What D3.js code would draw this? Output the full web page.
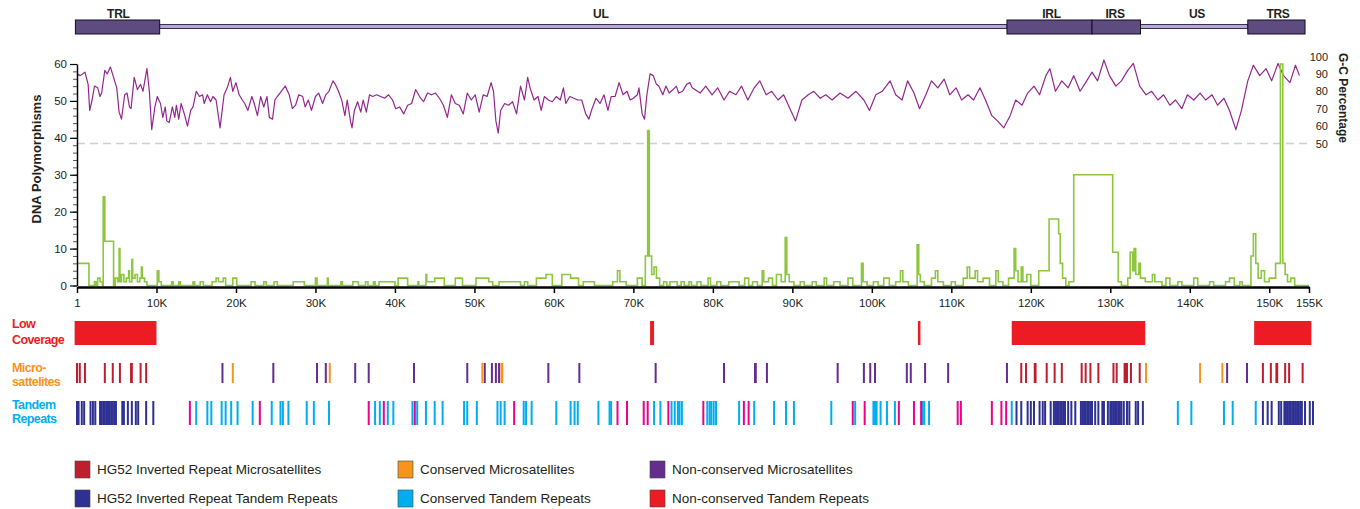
<!DOCTYPE html>
<html>
<head>
<meta charset="utf-8">
<script src="https://cdn.jsdelivr.net/npm/d3@7"></script>
<style>
  body { margin: 0; background: #fff; }
  svg text { font-family: "Liberation Sans", Arial, sans-serif; fill: #231f20; }
  .side-label { font-family: "Liberation Sans Narrow", "Liberation Sans", sans-serif; font-weight: bold; font-size: 12.5px; letter-spacing: -0.6px; }
</style>
</head>
<body>
<div class="chart"></div>
<script>
// genome regions (kb)
const regionNames   = ['TRL', 'UL', 'IRL', 'IRS', 'US', 'TRS'];
const regionStart   = [-0.2, 10.4, 117.0, 127.7, 133.8, 147.3];
const regionEnd     = [10.4, 117.0, 127.7, 133.8, 147.3, 154.5];
const regionIsBox   = [true, false, true, true, false, true];
const regionLabelAt = [5.2, 65.9, 122.6, 130.6, 140.9, 151.1];

// x ticks (kb)
const xTicks = [0, 10, 20, 30, 40, 50, 60, 70, 80, 90, 100, 110, 120, 130, 140, 150, 155];
const polyTicks = [0, 10, 20, 30, 40, 50, 60];
const gcTicks = [50, 60, 70, 80, 90, 100];

// G-C percentage trace [kb, %]
const gcTrace = [
  [0,90],[0.4,89],[1,91],[1.4,84],[1.6,69],[1.9,75],[2.2,83],[2.6,82],[2.9,77],[3.1,79],[3.5,92],[3.8,90],[4.2,94],[4.6,88],
  [5,82],[5.3,68],[5.6,64],[6,78],[6.3,79],[6.6,71],[6.8,70],[7.2,88],[7.6,81],[8,84],[8.3,80],[8.8,93],[9.1,80],[9.4,58],
  [9.8,71],[10.1,77],[10.5,73],[10.8,65],[11.1,71],[11.3,63],[11.6,62],[12,71],[12.3,65],[12.5,72],[12.8,64],[13.1,73],
  [13.5,67],[13.9,60],[14.3,69],[14.6,71],[15,80],[15.4,77],[15.8,78],[16,73],[16.4,78],[16.8,74],[17.1,77],[17.5,75],
  [18,59],[18.5,78],[18.9,82],[19.3,88],[19.6,80],[20,85],[20.4,78],[20.8,75],[21.1,73],[21.5,69],[22,77],[22.3,73],
  [22.7,66],[23.1,77],[23.5,71],[23.9,77],[24.2,65],[24.6,64],[24.9,75],[25.2,77],[25.7,80],[26.2,83],[26.7,78],[27.1,70],
  [27.5,72],[27.9,78],[28.4,77],[28.7,71],[29.1,75],[29.5,69],[30,77],[30.4,79],[30.9,73],[31.3,78],[31.7,80],[32.2,86],
  [32.5,84],[32.9,80],[33.3,75],[33.7,66],[34,75],[34.4,63],[34.6,59],[34.9,69],[35.3,74],[35.7,68],[36,75],[36.4,68],
  [36.8,78],[37.2,77],[37.7,78],[38.2,77],[38.7,76],[39.2,78],[39.7,75],[40.1,70],[40.6,71],[41.1,67],[41.6,72],[42.1,73],
  [42.6,81],[43.1,77],[43.6,74],[44.1,79],[44.6,78],[45.1,79],[45.6,76],[46.1,72],[46.6,65],[47.1,78],[47.6,73],[48.1,72],
  [48.6,67],[49.1,79],[49.6,75],[50.1,78],[50.6,68],[51.1,78],[51.6,77],[52.1,85],[52.4,80],[52.7,63],[53,56],[53.3,69],
  [53.8,73],[54.3,72],[54.8,74],[55.3,67],[55.8,83],[56.3,75],[56.7,88],[57,82],[57.5,75],[58,77],[58.4,69],[58.8,77],
  [59.3,75],[59.8,74],[60.3,77],[60.8,75],[61.2,82],[61.5,73],[62,77],[62.5,76],[63,75],[63.5,75],[64,67],[64.4,64],
  [64.8,70],[65.3,76],[65.8,73],[66.3,78],[66.8,69],[67.2,77],[67.7,77],[68.2,85],[68.7,78],[69.2,80],[69.6,75],[70,76],
  [70.5,78],[70.7,82],[71.1,67],[71.4,64],[71.7,78],[72.1,90],[72.5,89],[72.9,84],[73.2,83],[73.7,78],[74.1,83],[74.5,79],
  [75,81],[75.4,83],[75.7,79],[76.2,80],[76.7,84],[77.1,85],[77.4,82],[78.4,79],[79.1,83],[79.9,78],[80.6,82],[81.4,75],
  [82.1,80],[82.9,78],[83.6,83],[84.4,75],[85.2,82],[85.9,86],[86.7,78],[87.4,80],[88.2,75],[88.9,78],[89.7,70],[90.4,63],
  [91.2,75],[92,78],[92.7,80],[93.5,76],[94.2,78],[95,75],[96,79],[97,76],[98,80],[99,75],[99.7,69],[100.5,78],[101.3,80],
  [102.3,86],[103,78],[103.8,75],[104.5,86],[105.3,79],[106,70],[106.8,78],[107.5,86],[108.3,82],[109.1,87],[109.8,78],
  [110.6,82],[111.3,75],[112.1,78],[112.8,75],[113.6,82],[114.3,75],[115.1,66],[115.8,63],[116.6,59],[117.4,66],[118.1,75],
  [118.9,72],[119.6,79],[120.4,83],[121.1,78],[121.9,89],[122.4,93],[123.1,80],[123.9,86],[124.7,82],[125.4,89],[126.2,80],
  [126.9,85],[127.7,91],[128.4,86],[129.2,98],[129.9,89],[130.7,83],[131.4,86],[132.2,92],[132.9,96],[133.7,83],[134.5,78],
  [135.2,80],[136,75],[136.7,78],[137.5,72],[138.2,75],[139,70],[139.7,78],[140.5,75],[141.3,79],[142,75],[142.8,78],
  [143.5,72],[144.3,76],[145,69],[145.8,58],[146.5,69],[147.3,86],[148,95],[148.8,89],[149.6,93],[150.3,86],[151.1,96],
  [151.8,89],[152.6,85],[153.3,95],[153.8,89]
];

// DNA polymorphisms, step changes [kb, count]
const polySteps = [
  [0,6],[1.5,0],[2.2,1],[2.4,0],[2.6,2],[2.9,1],[3.2,0],[3.3,24],[3.5,12],[4.6,0],[4.8,2],[5.1,1],[5.3,10],[5.4,1],
  [5.6,3],[5.9,1],[6.2,2],[6.5,4],[6.6,1],[6.9,7],[7.0,2],[7.3,3],[7.6,1],[7.9,2],[8.1,5],[8.2,2],[8.5,1],[8.8,0],
  [10.1,4],[10.3,1],[10.6,0],[11.9,1],[12.1,0],[12.8,1],[13.0,0],[14.6,1],[14.8,0],[15.5,1],[15.9,0],[17.0,1],[17.5,2],
  [17.8,1],[18.4,2],[18.7,0],[19.6,2],[20.1,0],[21.9,1],[22.4,0],[23.5,1],[23.8,0],[24.8,1],[25.2,0],[27.2,1],[28.6,0],
  [30.0,2],[30.2,0],[31.5,2],[31.6,0],[33.2,1],[33.4,0],[34.7,1],[35.4,0],[36.3,1],[36.6,0],[37.3,1],[37.5,0],[38.0,1],
  [40.0,0],[40.4,2],[41.6,0],[42.9,1],[43.0,0],[43.9,3],[44.0,1],[45.0,2],[46.2,0],[47.6,2],[48.5,0],[50.2,2],[51.8,1],
  [52.3,0],[53.1,1],[55.8,0],[56.3,1],[56.7,0],[57.8,2],[59.0,3],[59.8,0],[61.0,3],[62.1,2],[63.1,0],[63.7,1],[65.1,0],
  [67.4,1],[68.0,4],[68.3,1],[69.1,0],[70.5,2],[71.1,0],[71.5,8],[71.8,42],[72.0,8],[72.3,3],[72.6,5],[72.9,2],[73.3,0],
  [73.8,1],[74.2,0],[74.6,1],[75.5,0],[76.0,1],[76.4,0],[77.0,1],[77.3,0],[78.0,1],[78.5,0],[79.4,2],[79.7,0],[80.5,1],
  [81.0,0],[82.0,1],[83.3,0],[84.0,2],[84.5,0],[85.0,1],[85.6,0],[86.2,4],[86.4,1],[87.0,2],[87.5,0],[88.0,3],[88.6,1],
  [89.1,13],[89.3,3],[89.6,1],[90.2,0],[91.0,1],[91.5,0],[92.5,1],[93.0,0],[94.0,2],[94.3,0],[95.2,1],[96.0,0],[97.0,2],
  [97.6,0],[98.7,6],[98.9,1],[99.4,0],[100.2,1],[100.8,0],[101.5,2],[102.2,0],[103.0,1],[103.6,4],[103.9,1],[104.6,0],
  [105.7,11],[105.9,3],[106.1,1],[106.6,0],[107.5,2],[108.0,4],[108.3,1],[109.0,0],[110.0,1],[110.5,0],[111.5,2],[112.0,5],
  [112.3,2],[113.0,4],[113.3,1],[114.0,2],[114.8,0],[115.6,4],[115.9,1],[116.5,0],[117.2,2],[117.9,10],[118.1,4],[118.4,1],
  [118.8,5],[119.0,1],[119.5,3],[120.0,0],[121.0,4],[122.3,18],[123.5,14],[123.7,6],[124.0,2],[124.4,0],[124.8,1],[125.4,30],
  [130.3,9],[131.0,1],[131.4,0],[132.2,2],[132.5,9],[132.8,4],[133.0,10],[133.2,3],[133.6,6],[133.8,2],[134.4,1],[135.3,3],
  [135.6,1],[136.5,0],[137.0,2],[137.5,0],[138.5,1],[139.0,0],[140.5,2],[141.0,0],[142.5,1],[143.0,0],[144.5,1],[145.0,2],
  [145.6,0],[146.3,1],[146.6,0],[147.7,8],[148.0,14],[148.3,6],[148.6,2],[149.0,4],[149.4,1],[150.0,2],[150.8,6],[151.4,60],
  [151.7,6],[152.0,3],[152.3,1],[152.7,2],[153.2,0],[155,0]
];

// low coverage regions [start kb, end kb]
const lowCoverage = [[-0.3, 10.0], [72.1, 72.6], [105.8, 106.1], [117.6, 134.4], [148.1, 155.3]];

// microsatellites (kb)
const microHG52 = [0, 0.35, 1.0, 3.5, 4.5, 5.4, 6.8, 6.9, 8.0, 8.7, 118.8, 119.4, 120.5, 120.6, 122.0, 123.0, 123.9,
  126.4, 126.9, 127.5, 128.5, 130.4, 130.8, 131.8, 131.9, 132.1, 132.6, 133.7, 149.2, 150.2, 150.9, 151.0, 152.0, 152.5, 154.2];
const microConserved = [19.6, 31.8, 51.0, 53.4, 53.5, 134.5, 141.3, 144.1];
const microNonConserved = [18.3, 24.7, 30.2, 31.3, 35.0, 36.7, 42.4, 49.1, 51.3, 52.2, 52.7, 53.1, 59.3, 63.2, 72.8,
  81.4, 85.3, 85.4, 86.8, 95.7, 99.0, 99.8, 100.4, 104.4, 104.9, 106.7, 109.6, 117.0, 144.7, 147.2];

// tandem repeats (kb)
const tandemHG52 = [0, 0.2, 0.6, 0.9, 1.7, 2.0, 2.3, 2.9, 3.1, 3.3, 3.5, 3.7, 3.9, 4.1, 4.3, 4.5, 4.7, 4.9, 5.7, 5.9,
  6.4, 6.9, 7.4, 7.7, 8.7, 9.6, 118.2, 118.8, 119.6, 120.0, 120.4, 121.1, 121.5, 121.8, 122.5, 122.9, 123.1, 123.3, 123.5,
  123.7, 123.9, 124.1, 124.3, 124.7, 125.1, 125.6, 126.3, 126.5, 126.7, 126.9, 127.1, 127.3, 127.5, 127.7, 128.1, 128.5,
  129.0, 129.2, 129.7, 130.0, 130.2, 130.4, 130.6, 130.8, 131.0, 131.2, 131.4, 131.7, 132.1, 132.4, 133.2, 133.5, 134.1,
  149.2, 149.8, 150.3, 151.2, 151.5, 151.9, 152.1, 152.3, 152.5, 152.7, 152.9, 153.1, 153.3, 153.5, 153.7, 153.9, 154.1,
  154.5, 155.1, 155.5];
const tandemConserved = [15.0, 16.4, 16.9, 18.2, 18.7, 19.4, 20.2, 22.1, 24.5, 25.6, 25.9, 26.6, 28.9, 29.8, 31.7, 37.5,
  38.1, 39.1, 39.8, 42.2, 42.8, 43.9, 45.0, 46.0, 48.7, 49.1, 50.3, 52.9, 53.3, 53.8, 56.2, 56.5, 57.2, 60.3, 62.1, 62.6,
  63.0, 65.6, 67.0, 67.2, 72.6, 73.4, 74.8, 75.2, 75.6, 75.8, 76.1, 79.3, 79.6, 79.8, 80.1, 80.4, 83.3, 85.2, 87.7, 89.2,
  90.2, 94.9, 97.9, 100.2, 100.4, 100.6, 101.1, 101.9, 102.9, 106.4, 106.6, 107.2, 117.6, 138.5, 140.2, 144.3, 145.4, 148.3];
const tandemNonConserved = [14.2, 23.0, 36.7, 38.6, 42.5, 55.0, 68.0, 69.2, 71.3, 71.8, 74.4, 78.8, 83.9, 84.5, 97.6,
  99.1, 103.4, 105.3, 106.2, 110.8, 111.2, 115.1, 116.3, 116.9];

// legend
const legendLabels = ['HG52 Inverted Repeat Microsatellites', 'Conserved Microsatellites', 'Non-conserved Microsatellites',
  'HG52 Inverted Repeat Tandem Repeats', 'Conserved Tandem Repeats', 'Non-conserved Tandem Repeats'];
const legendColors = ['#be1e2d', '#f7941d', '#662d91', '#2e3192', '#00aeef', '#ed1c24'];

let svg = d3.select('.chart')
    .append('svg')
    .attr('width', 1360)
    .attr('height', 509);

let x = d3.scaleLinear().domain([0, 155]).range([77, 1309]);
let yPoly = d3.scaleLinear().domain([0, 60]).range([285.5, 64]);
let yGc = d3.scaleLinear().domain([50, 100]).range([143.5, 56.5]);

//
// GENOME MAP
//
let map = svg.append('g');
regionNames.forEach((name, i) => {
    if (regionIsBox[i]) return;
    map.append('rect')
        .attr('x', x(regionStart[i]))
        .attr('y', 24.5)
        .attr('width', x(regionEnd[i]) - x(regionStart[i]))
        .attr('height', 4)
        .attr('fill', '#b5a8d2')
        .attr('stroke', '#3b2d59')
        .attr('stroke-width', 1);
});
regionNames.forEach((name, i) => {
    if (regionIsBox[i]) {
        map.append('rect')
            .attr('x', x(regionStart[i]))
            .attr('y', 20)
            .attr('width', x(regionEnd[i]) - x(regionStart[i]))
            .attr('height', 14)
            .attr('fill', '#5e4b80')
            .attr('stroke', '#140e20')
            .attr('stroke-width', 1);
    }
    map.append('text')
        .attr('x', x(regionLabelAt[i]))
        .attr('y', 17.5)
        .attr('text-anchor', 'middle')
        .attr('class', 'side-label')
        .style('font-size', '12px')
        .style('letter-spacing', '-0.3px')
        .text(name);
});

//
// PLOT
//

// 50% G-C reference line
svg.append('line')
    .attr('x1', x(0)).attr('x2', x(155))
    .attr('y1', yGc(50)).attr('y2', yGc(50))
    .attr('stroke', '#d0d0d0')
    .attr('stroke-width', 1.5)
    .attr('stroke-dasharray', '8,5');

// G-C line
svg.append('path')
    .datum(gcTrace)
    .attr('fill', 'none')
    .attr('stroke', '#93278f')
    .attr('stroke-width', 1.2)
    .attr('stroke-linejoin', 'round')
    .attr('d', d3.line().x(d => x(d[0])).y(d => yGc(d[1])));

// polymorphisms step line
svg.append('path')
    .datum(polySteps)
    .attr('fill', 'none')
    .attr('stroke', '#8dc63f')
    .attr('stroke-width', 1.6)
    .attr('d', d3.line().curve(d3.curveStepAfter).x(d => x(d[0])).y(d => yPoly(d[1])));

// Add left Y axis (minor ticks)
let minor = svg.append('g')
    .attr('transform', 'translate(77,0)')
    .call(d3.axisLeft(yPoly).tickValues(d3.range(0, 61, 2)).tickSize(4).tickFormat(''));
minor.select('.domain').remove();
minor.selectAll('line').attr('stroke', '#555');

// Add left Y axis
let yAxis = svg.append('g')
    .attr('transform', 'translate(77,0)')
    .call(d3.axisLeft(yPoly).tickValues(polyTicks).tickSize(7).tickSizeOuter(0).tickPadding(3));
yAxis.select('.domain').attr('stroke', '#000').attr('stroke-width', 1.5);
yAxis.selectAll('line').attr('stroke', '#000').attr('stroke-width', 1.2);
yAxis.selectAll('text').style('font-size', '11.5px').attr('fill', '#333');

// Add Y label
svg.append('text')
    .attr('text-anchor', 'middle')
    .attr('transform', 'translate(41,159)rotate(-90)')
    .style('font-weight', 'bold')
    .style('font-size', '13px')
    .text('DNA Polymorphisms');

// right G-C labels
let yRight = svg.append('g')
    .attr('transform', 'translate(1328,0)')
    .call(d3.axisLeft(yGc).tickValues(gcTicks).tickSize(0).tickPadding(0));
yRight.select('.domain').remove();
yRight.selectAll('text').style('font-size', '11px').attr('fill', '#231f20');

svg.append('text')
    .attr('text-anchor', 'middle')
    .attr('transform', 'translate(1339,98)rotate(90)')
    .style('font-weight', 'bold')
    .style('font-size', '12px')
    .text('G-C Percentage');

// Add X axis
let xAxis = svg.append('g')
    .attr('transform', 'translate(0,287)')
    .call(d3.axisBottom(x).tickValues(xTicks).tickSize(6).tickSizeOuter(0).tickPadding(6)
        .tickFormat(d => d === 0 ? '1' : d + 'K'));
xAxis.select('.domain').attr('stroke', '#000').attr('stroke-width', 2.5);
xAxis.selectAll('line').attr('stroke', '#000').attr('stroke-width', 1.5);
xAxis.selectAll('text').style('font-size', '11.5px').attr('fill', '#231f20');

//
// TRACKS
//

// low coverage
svg.append('g')
    .selectAll('rect')
    .data(lowCoverage)
    .enter()
    .append('rect')
    .attr('x', d => x(d[0]))
    .attr('y', 321)
    .attr('width', d => Math.max(2.5, x(d[1]) - x(d[0])))
    .attr('height', 24)
    .attr('fill', '#ed1c24');

let drawMarks = (data, color, top, h) => {
    svg.append('g')
        .selectAll('rect')
        .data(data)
        .enter()
        .append('rect')
        .attr('x', d => x(d) - 1)
        .attr('y', top)
        .attr('width', 2)
        .attr('height', h)
        .attr('fill', color);
}

drawMarks(microNonConserved, '#662d91', 363, 20);
drawMarks(microConserved, '#f7941d', 363, 20);
drawMarks(microHG52, '#be1e2d', 363, 20);

drawMarks(tandemConserved, '#00aeef', 401, 24);
drawMarks(tandemNonConserved, '#ec008c', 401, 24);
drawMarks(tandemHG52, '#2e3192', 401, 24);

// track labels
let trackLabel = (lines, color, y0, gap) => {
    lines.forEach((t, i) => {
        svg.append('text')
            .attr('x', 12)
            .attr('y', y0 + i * gap)
            .attr('class', 'side-label')
            .style('fill', color)
            .text(t);
    });
}
trackLabel(['Low', 'Coverage'], '#ed1c24', 328, 16);
trackLabel(['Micro-', 'sattelites'], '#f7941d', 372, 14);
trackLabel(['Tandem', 'Repeats'], '#00aeef', 409, 14);

//
// LEGEND
//
let legendX = [75, 398, 650];
let legendY = [461, 490];
legendLabels.forEach((label, i) => {
    let col = i % 3, row = Math.floor(i / 3);
    svg.append('rect')
        .attr('x', legendX[col])
        .attr('y', legendY[row])
        .attr('width', 15)
        .attr('height', 17)
        .attr('fill', legendColors[i])
        .attr('stroke', '#444')
        .attr('stroke-width', 0.6);
    svg.append('text')
        .attr('x', legendX[col] + 22)
        .attr('y', legendY[row] + 13)
        .style('font-size', '13.5px')
        .text(label);
});
</script>
</body>
</html>
